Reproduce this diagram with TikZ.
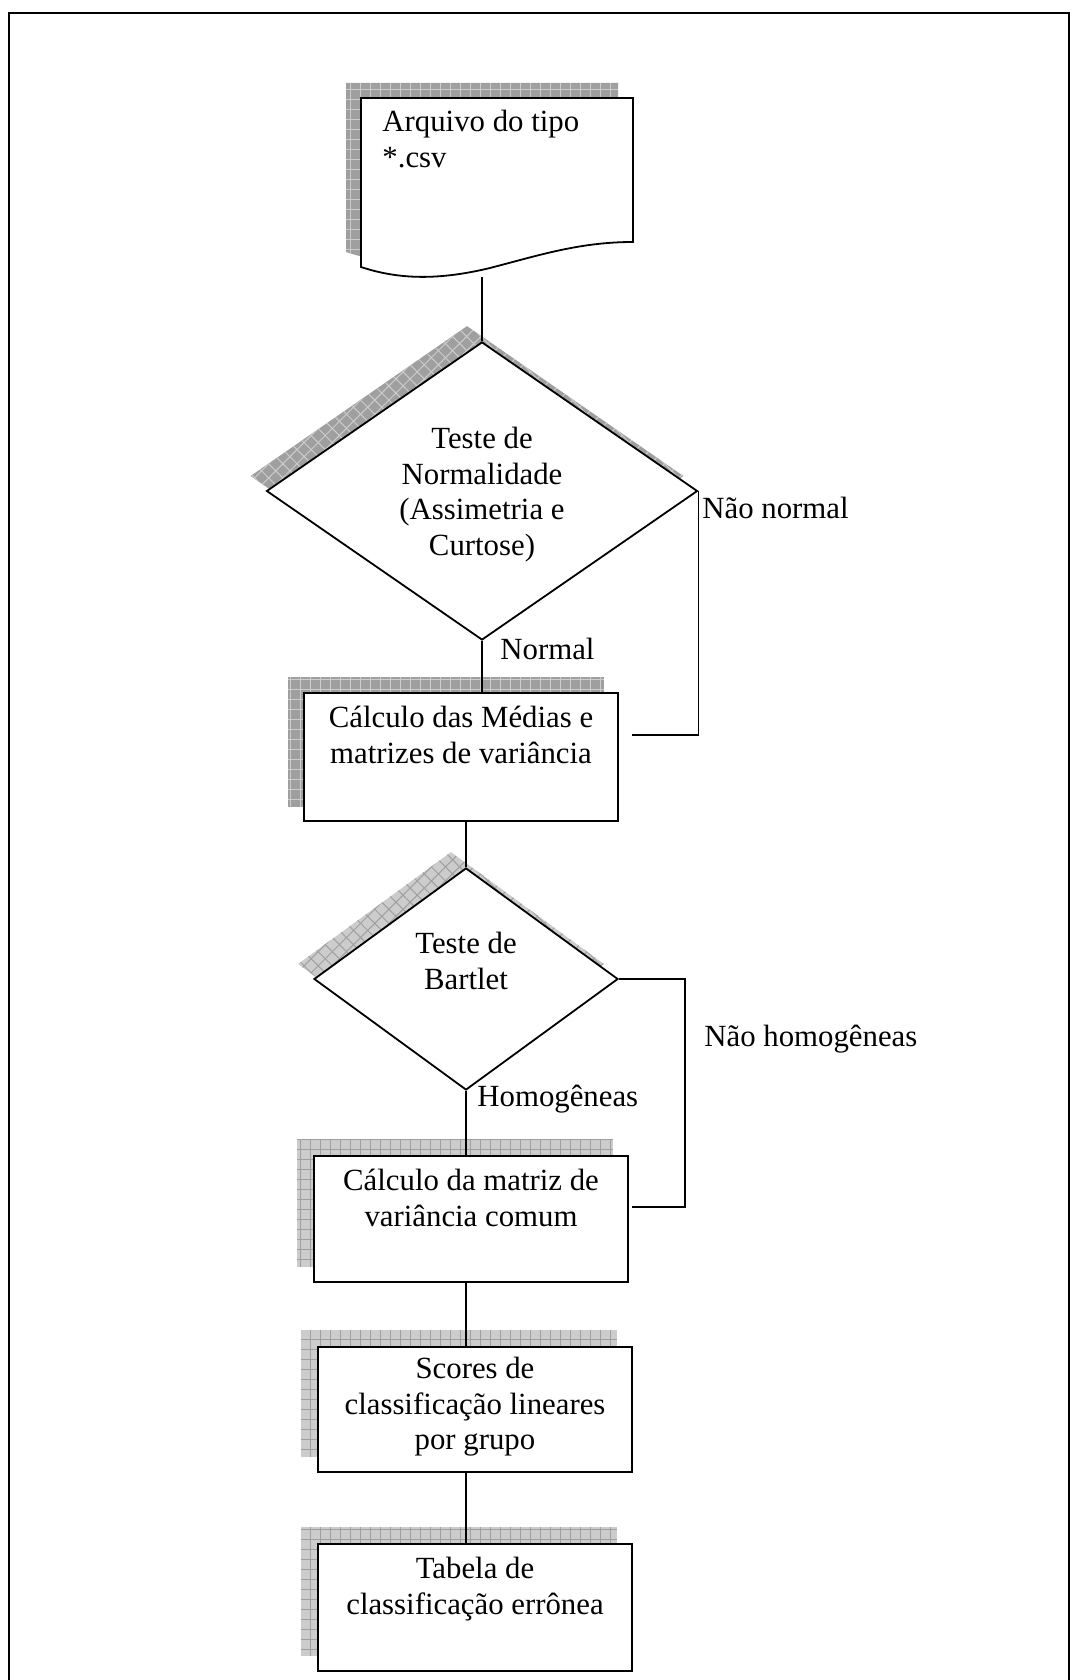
\documentclass[tikz,border=0pt]{standalone}
\usepackage{fontspec}
\setmainfont{Liberation Serif}
\usetikzlibrary{shapes.geometric,positioning,calc,backgrounds,patterns.meta}

\newcommand{\docoutline}{(361,98) -- (633,98) -- (633,242)
  .. controls (580,242) and (540,255) .. (490,268)
  .. controls (440,280) and (400,280) .. (361,267) -- cycle}

\tikzset{
  proc/.style={draw, line width=0.9pt, fill=white, minimum width=157pt, inner sep=0pt},
  decis/.style={draw, diamond, line width=0.9pt, fill=white, inner sep=0pt},
  txt/.style={font=\fontsize{15.4}{17.75}\selectfont, inner sep=0pt, align=center,
    execute at begin node=\strut},
  lbl/.style={font=\fontsize{15.4}{17.75}\selectfont, inner sep=0pt, anchor=base west},
  conn/.style={line width=0.8pt},
  hatch/.style n args={4}{fill=#1,
    postaction={pattern={Lines[distance=5pt,angle=#2,line width=0.5pt]}, pattern color=#4},
    postaction={pattern={Lines[distance=5pt,angle=#3,line width=0.5pt]}, pattern color=#4}},
  darkgrid/.style={hatch={gray!75}{0}{90}{gray!40}},
  darkdiag/.style={hatch={gray!75}{45}{-45}{gray!40}},
  lightgrid/.style={hatch={gray!40}{0}{90}{gray!75}},
  lightdiag/.style={hatch={gray!40}{45}{-45}{gray!75}},
}

\begin{document}
\begin{tikzpicture}[x=0.5pt,y=-0.5pt]
  \useasboundingbox (0,0) rectangle (1071,1680);

  % frame
  \draw[line width=1.2pt] (9,1700) -- (9,13) -- (1069,13) -- (1069,1700);

  % input file
  \draw[line width=0.9pt, fill=white] \docoutline;
  \coordinate (docb) at (482,277);
  \node[txt, align=left, anchor=north west] (docTxt) at (382,110) {Arquivo do tipo\\*.csv};

  % normality test
  \node[decis, minimum width=215.5pt, minimum height=149pt] (d1) at (482,491) {};
  \node[txt, anchor=north] (d1Txt) at (482,427) {Teste de\\Normalidade\\(Assimetria e\\Curtose)};

  \node[proc, minimum height=64pt] (m1) at (461,757) {};
  \node[txt, below=7pt of m1.north] (m1Txt) {C\'alculo das M\'edias e\\matrizes de vari\^ancia};

  % Bartlet test
  \node[decis, minimum width=152pt, minimum height=111pt] (d2) at (466,979) {};
  \node[txt, anchor=north] (d2Txt) at (466,932) {Teste de\\Bartlet};

  \node[proc, minimum height=63pt] (m2) at (471,1219) {};
  \node[txt, below=7pt of m2.north] (m2Txt) {C\'alculo da matriz de\\vari\^ancia comum};

  \node[proc, minimum height=62.5pt] (m3) at (475,1409.5) {};
  \node[txt, below=5.5pt of m3.north] (m3Txt) {Scores de\\classifica\c{c}\~ao lineares\\por grupo};

  \node[proc, minimum height=63.5pt] (m4) at (475,1607.5) {};
  \node[txt, below=7pt of m4.north] (m4Txt) {Tabela de\\classifica\c{c}\~ao err\^onea};

  % connectors
  \coordinate (nnEnd) at (632,735);
  \coordinate (nhEnd) at (632,1207);
  \draw[conn] (docb) -- (d1.north);
  \draw[conn] (d1.south) -- (d1.south |- m1.north);
  \draw[conn] (d1.east) |- (nnEnd);
  \draw[conn] (d2.north |- m1.south) -- (d2.north);
  \draw[conn] (d2.east) -- ++(66,0) |- (nhEnd);
  \draw[conn] (d2.south) -- (d2.south |- m2.north);
  \draw[conn] (d2.south |- m2.south) -- (d2.south |- m3.north);
  \draw[conn] (d2.south |- m3.south) -- (d2.south |- m4.north);

  % branch labels
  \node[lbl] (nNormal) at (702,518) {N\~ao normal};
  \node[lbl] (normal) at (500,659) {Normal};
  \node[lbl] (homog) at (477,1106) {Homog\^eneas};
  \node[lbl] (nHomog) at (704,1046) {N\~ao homog\^eneas};

  % shadows
  \begin{scope}[on background layer]
    \fill[white] (0,0) rectangle (1071,1680);
    \path[darkgrid, shift={(-15,-15)}] \docoutline;
    \path[darkdiag] ($(d1.north)+(-15,-15)$) -- ($(d1.east)+(-15,-15)$)
      -- ($(d1.south)+(-15,-15)$) -- ($(d1.west)+(-15,-15)$) -- cycle;
    \path[darkgrid] ($(m1.south west)+(-15,-15)$) rectangle ($(m1.north east)+(-15,-15)$);
    \path[lightdiag] ($(d2.north)+(-15,-15)$) -- ($(d2.east)+(-15,-15)$)
      -- ($(d2.south)+(-15,-15)$) -- ($(d2.west)+(-15,-15)$) -- cycle;
    \path[lightgrid] ($(m2.south west)+(-16,-16)$) rectangle ($(m2.north east)+(-16,-16)$);
    \path[lightgrid] ($(m3.south west)+(-16,-16)$) rectangle ($(m3.north east)+(-16,-16)$);
    \path[lightgrid] ($(m4.south west)+(-16,-16)$) rectangle ($(m4.north east)+(-16,-16)$);
  \end{scope}
\end{tikzpicture}
\end{document}
